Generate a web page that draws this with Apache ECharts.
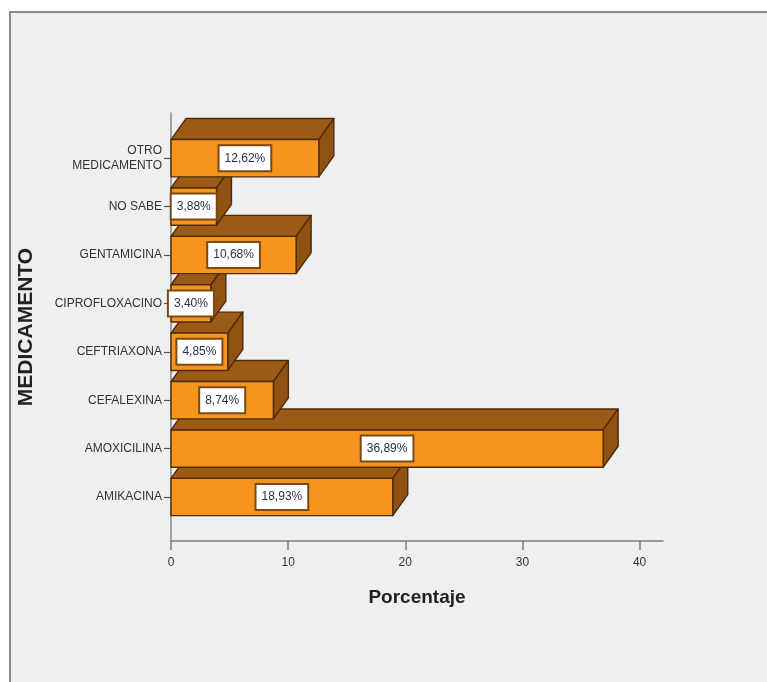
<!DOCTYPE html>
<html>
<head>
<meta charset="utf-8">
<script src="https://cdn.jsdelivr.net/npm/echarts@6/dist/echarts.min.js"></script>
<style>
html,body{margin:0;padding:0;background:#fff;}
#chart{width:767px;height:682px;}
</style>
</head>
<body>
<div id="chart"></div>
<script>
// Data (bottom to top, as shown on the category axis)
const categories = ['AMIKACINA', 'AMOXICILINA', 'CEFALEXINA', 'CEFTRIAXONA', 'CIPROFLOXACINO', 'GENTAMICINA', 'NO SABE', 'OTRO MEDICAMENTO'];
const percentages = [18.93, 36.89, 8.74, 4.85, 3.40, 10.68, 3.88, 12.62];
const xTickValues = [0, 10, 20, 30, 40];
const xAxisTitle = 'Porcentaje';
const yAxisTitle = 'MEDICAMENTO';

const FONT = '"Liberation Sans", Arial, sans-serif';
const FRONT = '#f7941e';
const TOP = '#9c5b14';
const SIDE = '#8f5212';
const EDGE = '#4e2c08';

const seriesData = percentages.map((v, i) => [v, i]);

function fmt(v) { return v.toFixed(2).replace('.', ',') + '%'; }

function renderItem(params, api) {
  const idx = api.value(1);
  const v = api.value(0);
  const p0 = api.coord([0, idx]);
  const p1 = api.coord([v, idx]);
  const band = api.size([0, 1])[1];
  const h = band * 0.77;
  const dx = 15, dy = 21;
  const x0 = p0[0], x1 = p1[0];
  const yt = p0[1] - h / 2, yb = p0[1] + h / 2;
  const st = { stroke: EDGE, lineWidth: 1.4, lineJoin: 'round' };
  return {
    type: 'group',
    children: [
      { type: 'polygon', z2: idx * 10 + 1,
        shape: { points: [[x0, yt], [x1, yt], [x1 + dx, yt - dy], [x0 + dx, yt - dy]] },
        style: Object.assign({ fill: TOP }, st) },
      { type: 'polygon', z2: idx * 10 + 1,
        shape: { points: [[x1, yt], [x1 + dx, yt - dy], [x1 + dx, yb - dy], [x1, yb]] },
        style: Object.assign({ fill: SIDE }, st) },
      { type: 'rect', z2: idx * 10 + 2,
        shape: { x: x0, y: yt, width: x1 - x0, height: h },
        style: Object.assign({ fill: FRONT }, st) },
      { type: 'text', z2: idx * 10 + 3,
        x: (x0 + x1) / 2, y: p0[1],
        style: {
          text: fmt(v), align: 'center', verticalAlign: 'middle',
          fontFamily: FONT, fontSize: 12, fill: '#27324a',
          backgroundColor: '#ffffff', borderColor: '#7a4a16', borderWidth: 2,
          padding: [6, 5]
        } }
    ]
  };
}

const chart = echarts.init(document.getElementById('chart'), null, { renderer: 'canvas' });
chart.setOption({
  backgroundColor: '#ffffff',
  animation: false,
  graphic: [
    { type: 'rect', z: -10, silent: true,
      shape: { x: 10, y: 12, width: 800, height: 720 },
      style: { fill: '#efefef', stroke: '#8a8a8a', lineWidth: 2 } }
  ],
  grid: [
    { left: 171, right: 104, top: 113, bottom: 141 },
    { left: 171, right: 104, top: 134, bottom: 160.8 }
  ],
  xAxis: [
    { gridIndex: 0, type: 'value', min: 0, max: 42, interval: 10,
      axisLine: { show: true, lineStyle: { color: '#7d7d7d', width: 1.5 } },
      axisTick: { show: true, length: 9, customValues: xTickValues, lineStyle: { color: '#7d7d7d', width: 1.5 } },
      axisLabel: { customValues: xTickValues, margin: 16, fontFamily: FONT, fontSize: 12, color: '#333' },
      splitLine: { show: false },
      name: xAxisTitle, nameLocation: 'middle', nameGap: 47,
      nameTextStyle: { fontFamily: FONT, fontSize: 19, fontWeight: 'bold', color: '#222' } },
    { gridIndex: 1, type: 'value', min: 0, max: 42, show: false }
  ],
  yAxis: [
    { gridIndex: 0, type: 'value', min: 0, max: 1,
      axisLine: { show: true, lineStyle: { color: '#8a8a8a', width: 1.5 } },
      axisTick: { show: false }, axisLabel: { show: false }, splitLine: { show: false },
      name: yAxisTitle, nameLocation: 'middle', nameGap: 134,
      nameTextStyle: { fontFamily: FONT, fontSize: 21, fontWeight: 'bold', color: '#222' } },
    { gridIndex: 1, type: 'category', data: categories,
      axisLine: { show: false },
      axisTick: { show: true, alignWithLabel: true, length: 7, lineStyle: { color: '#555', width: 1.2 } },
      axisLabel: { margin: 9, fontFamily: FONT, fontSize: 12, color: '#333', lineHeight: 15,
        formatter: (s) => s.length > 14 && s.indexOf(' ') > 0 ? s.replace(' ', '\n') : s },
      splitLine: { show: false } }
  ],
  series: [
    { type: 'custom', xAxisIndex: 1, yAxisIndex: 1, renderItem: renderItem,
      encode: { x: 0, y: 1 }, data: seriesData, clip: false }
  ]
});
</script>
</body>
</html>
